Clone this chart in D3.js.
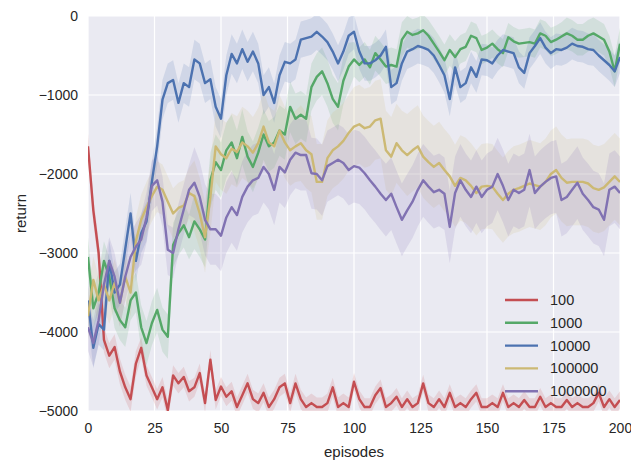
<!DOCTYPE html>
<html>
<head>
<meta charset="utf-8">
<script src="https://cdn.jsdelivr.net/npm/d3@7"></script>
<style>
  body { margin: 0; background: #fff; }
  text { font-family: "Liberation Sans", Arial, sans-serif; fill: #262626; }
</style>
</head>
<body>
<svg id="chart" width="631" height="461"></svg>
<script>
// episodes sampled every 2 steps, 0..200
var episodes = d3.range(0, 201, 2);

var seriesNames = ["100", "1000", "10000", "100000", "1000000"];
var seriesColors = ["#C44E52", "#55A868", "#4C72B0", "#CCB974", "#8172B2"];

var ret100 = [-1650,-2460,-3000,-4100,-4300,-4190,-4500,-4700,-4850,-4400,
  -4200,-4550,-4700,-4850,-4700,-4990,-4550,-4650,-4570,-4750,
  -4700,-4520,-4900,-4350,-4860,-4690,-4820,-4750,-4950,-4800,
  -4650,-4850,-4900,-4770,-4950,-4850,-4700,-4650,-4900,-4650,
  -4850,-4950,-4900,-4950,-4950,-4900,-4700,-4950,-4900,-4950,
  -4630,-4850,-4950,-4950,-4800,-4710,-4950,-4900,-4820,-4950,
  -4850,-4950,-4900,-4650,-4900,-4950,-4850,-4950,-4770,-4950,
  -4900,-4950,-4850,-4770,-4950,-4950,-4900,-4950,-4770,-4950,
  -4900,-4950,-4860,-4950,-4950,-4820,-4950,-4900,-4950,-4950,
  -4860,-4950,-4900,-4950,-4950,-4900,-4770,-4950,-4850,-4950,-4860];

var ret1000 = [-3050,-3700,-3500,-3100,-3300,-3700,-3850,-3940,-3600,-3500,
  -3940,-4140,-3890,-3720,-3970,-4060,-2900,-2750,-2650,-2800,
  -2600,-2700,-2830,-2080,-1850,-1950,-1700,-1600,-1800,-1530,
  -1780,-1910,-1730,-1500,-1650,-1600,-1450,-1500,-1150,-1300,
  -1250,-1300,-900,-770,-700,-850,-1050,-1150,-820,-640,
  -550,-620,-550,-650,-470,-550,-640,-620,-640,-300,
  -200,-240,-220,-180,-250,-350,-450,-560,-430,-520,
  -420,-390,-250,-280,-430,-400,-350,-420,-470,-270,
  -320,-350,-340,-330,-350,-220,-250,-330,-300,-260,
  -220,-250,-300,-300,-250,-220,-260,-300,-450,-700,-350];

var ret10000 = [-3600,-4200,-3900,-3970,-3100,-3500,-3400,-2950,-2500,-3100,
  -2750,-2600,-2100,-1650,-1060,-850,-810,-1100,-850,-900,
  -550,-600,-850,-800,-1150,-1300,-750,-480,-600,-420,
  -580,-450,-600,-1000,-900,-1100,-750,-580,-600,-550,
  -300,-280,-260,-200,-260,-330,-450,-600,-450,-250,
  -200,-450,-600,-600,-560,-500,-390,-900,-850,-600,
  -450,-420,-380,-400,-430,-500,-620,-750,-1050,-650,
  -900,-850,-650,-770,-550,-560,-600,-500,-430,-450,
  -470,-650,-720,-470,-380,-280,-400,-470,-420,-430,
  -400,-350,-380,-390,-420,-430,-500,-560,-620,-700,-520];

var ret100000 = [-3800,-3340,-3600,-3400,-3600,-3380,-3630,-3300,-3500,-2850,
  -2580,-2420,-2280,-2160,-2200,-2350,-2500,-2430,-2400,-2240,
  -2280,-2500,-2800,-2300,-1650,-1750,-1800,-1680,-1720,-1600,
  -1650,-1730,-1610,-1400,-1600,-1650,-1450,-1600,-1700,-1650,
  -1610,-1700,-1750,-2100,-2100,-1800,-1700,-1650,-1580,-1480,
  -1400,-1370,-1420,-1400,-1320,-1300,-1700,-1780,-1610,-1700,
  -1760,-1700,-1650,-1780,-1850,-1910,-1860,-1950,-2030,-2150,
  -2050,-2080,-2150,-2240,-2160,-2150,-2160,-2250,-2330,-2250,
  -2200,-2180,-2150,-2120,-2140,-2160,-2100,-2000,-1950,-2050,
  -2110,-2100,-2100,-2100,-2120,-2180,-2200,-2170,-2100,-2030,-2100];

var ret1000000 = [-3940,-4140,-3850,-3400,-3100,-3300,-3630,-3300,-3050,-2920,
  -2830,-2550,-2150,-2080,-2350,-2960,-3000,-2700,-2450,-2200,
  -2110,-2290,-2580,-2700,-2700,-2780,-2550,-2420,-2520,-2290,
  -2160,-2080,-2050,-1910,-2000,-2200,-1910,-1980,-1820,-1730,
  -1760,-1760,-1990,-2000,-2080,-1900,-1860,-1820,-1860,-1950,
  -1900,-1920,-1990,-2080,-2160,-2250,-2330,-2250,-2420,-2580,
  -2460,-2350,-2200,-2080,-2160,-2230,-2200,-2250,-2670,-2240,
  -2080,-2200,-2290,-2160,-2290,-2200,-2160,-2000,-2150,-2330,
  -2200,-2240,-2200,-1950,-2240,-2160,-2100,-2050,-2030,-2330,
  -2290,-2200,-2110,-2250,-2330,-2420,-2450,-2580,-2200,-2160,-2240];

// half-width of the shaded band, one value per block of 20 episodes
var spread100 = [160, 130, 120, 120, 120, 110, 110, 110, 110, 110];
var spread1000 = [250, 280, 350, 320, 300, 220, 200, 180, 180, 200];
var spread10000 = [260, 250, 250, 250, 230, 220, 220, 200, 200, 200];
var spread100000 = [300, 320, 450, 450, 480, 500, 520, 540, 550, 550];
var spread1000000 = [300, 320, 450, 450, 450, 460, 460, 460, 460, 460];

var yTicks = [0, -1000, -2000, -3000, -4000, -5000];
var xTicks = [0, 25, 50, 75, 100, 125, 150, 175, 200];

var allReturns = [ret100, ret1000, ret10000, ret100000, ret1000000];
var allSpreads = [spread100, spread1000, spread10000, spread100000, spread1000000];

var margin = {top: 16, right: 11, bottom: 50, left: 88},
    width = 631 - margin.left - margin.right,
    height = 461 - margin.top - margin.bottom;

var svg = d3.select("#chart");
var g = svg.append("g").attr("transform", "translate(" + margin.left + "," + margin.top + ")");

var x = d3.scaleLinear().domain([0, 200]).range([0, width]);
var y = d3.scaleLinear().domain([-5000, 0]).range([height, 0]);

g.append("rect")
  .attr("width", width).attr("height", height)
  .attr("fill", "#EAEAF2");

g.append("clipPath").attr("id", "plot-clip")
  .append("rect").attr("width", width).attr("height", height);

// grid
g.selectAll(".xgrid").data(xTicks).enter().append("line")
  .attr("x1", function(d) { return x(d); }).attr("x2", function(d) { return x(d); })
  .attr("y1", 0).attr("y2", height)
  .attr("stroke", "#fff").attr("stroke-width", 1.2);
g.selectAll(".ygrid").data(yTicks).enter().append("line")
  .attr("y1", function(d) { return y(d); }).attr("y2", function(d) { return y(d); })
  .attr("x1", 0).attr("x2", width)
  .attr("stroke", "#fff").attr("stroke-width", 1.2);

var plot = g.append("g").attr("clip-path", "url(#plot-clip)");

allReturns.forEach(function(vals, i) {
  var spread = allSpreads[i];
  var pts = episodes.map(function(ep, j) {
    var s = spread[Math.min(9, Math.floor(ep / 20))];
    return {ep: ep, v: vals[j], lo: vals[j] - s, hi: vals[j] + s};
  });
  plot.append("path")
    .datum(pts)
    .attr("fill", seriesColors[i])
    .attr("fill-opacity", 0.16)
    .attr("d", d3.area()
      .x(function(d) { return x(d.ep); })
      .y0(function(d) { return y(d.lo); })
      .y1(function(d) { return y(d.hi); }));
});

allReturns.forEach(function(vals, i) {
  plot.append("path")
    .datum(vals)
    .attr("fill", "none")
    .attr("stroke", seriesColors[i])
    .attr("stroke-width", 2.4)
    .attr("stroke-linejoin", "round")
    .attr("d", d3.line()
      .x(function(d, j) { return x(episodes[j]); })
      .y(function(d) { return y(d); }));
});

// axes
var xAxis = d3.axisBottom(x).tickValues(xTicks).tickSize(0).tickPadding(12);
g.append("g").attr("transform", "translate(0," + height + ")").call(xAxis)
  .call(function(s) { s.select(".domain").remove(); })
  .selectAll("text").style("font-size", "14px").attr("fill", "#333");

var yAxis = d3.axisLeft(y).tickValues(yTicks).tickSize(0).tickPadding(10)
  .tickFormat(function(d) { return d < 0 ? "\u2212" + Math.abs(d) : d; });
g.append("g").call(yAxis)
  .call(function(s) { s.select(".domain").remove(); })
  .selectAll("text").style("font-size", "14px").attr("fill", "#333");

g.append("text")
  .attr("x", width / 2).attr("y", height + 46)
  .attr("text-anchor", "middle")
  .style("font-size", "15px")
  .text("episodes");

g.append("text")
  .attr("transform", "translate(-62," + (height / 2) + ") rotate(-90)")
  .attr("text-anchor", "middle")
  .style("font-size", "15px")
  .text("return");

// legend
var legend = g.append("g").attr("transform", "translate(" + (width - 115) + "," + (height - 111) + ")");
seriesNames.forEach(function(name, i) {
  var row = legend.append("g").attr("transform", "translate(0," + (i * 22.8) + ")");
  row.append("line").attr("x1", 0).attr("x2", 33)
    .attr("stroke", seriesColors[i]).attr("stroke-width", 2.4);
  row.append("text").attr("x", 45).attr("y", 5)
    .style("font-size", "14.5px").text(name);
});
</script>
</body>
</html>
